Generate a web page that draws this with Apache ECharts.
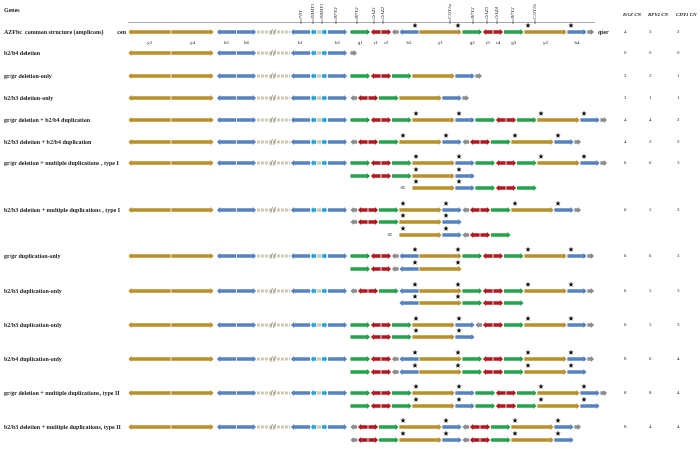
<!DOCTYPE html>
<html><head><meta charset="utf-8">
<script src="https://cdn.jsdelivr.net/npm/echarts@6/dist/echarts.min.js"></script>
<style>html,body{margin:0;padding:0;background:#fff}#c{width:700px;height:449px}</style>
</head><body><div id="c"></div>
<script>
// ---------------- DATA ----------------
const geneNames = ['PRY','RBMY1','RBMY1','BPY2','BPY2','DAZ1','DAZ2','CDY1a','BPY2','DAZ3','DAZ4','BPY2','CDY1b'];
const genePos   = [301,313,322,336,357,374,383,450,473,487,497,513,535];

const rowLabels = ['AZFbc  common structure (amplicons)','b2/b4 deletion','gr/gr deletion-only','b2/b3 deletion-only',
  'gr/gr deletion + b2/b4 duplication','b2/b3 deletion + b2/b4 duplication','gr/gr deletion + multiple duplications\u00a0, type I',
  'b2/b3 deletion + multiple duplications\u00a0, type I','gr/gr duplication-only','b2/b3 duplication-only','b2/b3 duplication-only',
  'b2/b4 duplication-only','gr/gr deletion + multiple duplications, type II','b2/b3 deletion + multiple duplications, type II'];
const rowY   = [32,53,76,98,120,142,163,210,256,291,325,359,393,427];
const dazCN  = [4,0,2,2,4,4,6,6,6,6,6,8,8,8];
const bpy2CN = [3,0,2,1,4,2,6,5,6,5,5,6,8,4];
const cdy1CN = [2,0,1,1,2,2,3,3,3,3,3,4,4,4];

// amplicon unit lengths (Y gold, B blue, G green, R red, X grey, D gap, L light blue, K box, S spacer)
const unitLen = {Y:43, B:20, G:20.5, R:10.5, X:7.5, D:34, L:6, K:5, S:2.5};

const LEFT = 'Y< Y> S B< B> D B< L< K L> B> S';
const COMMON = 'G> R< R> X< B<^ Y>^ G> R< R> G> Y>* B>* X>';
const GRDEL_DUP = 'G> R< R> G> Y>* B>* G> R< R> G> Y>* B>* X>';
const B3DEL_DUP = 'X< R< R> G> Y>* B>* X< R< R> G> Y>* B>* X>';
const trackY = [32,53,76,98,120,142,163,176,188,210,222,235,256,269,291,303,325,337,359,372,393,406,427,440];
const trackStart = [128,128,128,128,128,128,128,350,412,128,350,399,128,350,128,399,128,350,128,350,128,350,128,350];
const trackTokens = [
  LEFT+' '+COMMON,
  LEFT+' X>',
  LEFT+' G> R< R> G> Y> B> X>',
  LEFT+' X< R< R> G> Y> B> X>',
  LEFT+' '+GRDEL_DUP,
  LEFT+' '+B3DEL_DUP,
  LEFT+' '+GRDEL_DUP,
  'G> R< R> G> Y>* B>*',
  'Y>* B>* G> R< R> G>',
  LEFT+' '+B3DEL_DUP,
  'X< R< R> G> Y>* B>*',
  'Y>* B>* X< R< R> G>',
  LEFT+' '+COMMON,
  'G> R< R> X< B<^ Y>^',
  LEFT+' X< R< R> G> B<^ Y>^ G> R< R> G> Y>* B>* X>',
  'B<^ Y>^ G> R< R> G>',
  LEFT+' G> R< R> G> Y>* B>* X< R< R> G> Y>* B>* X>',
  'G> R< R> G> Y>* B>*',
  LEFT+' '+COMMON,
  'G> R< R> X< B<^ Y>^ G> R< R> G> Y>* B>*',
  LEFT+' '+GRDEL_DUP,
  'G> R< R> G> Y>* B>* G> R< R> G> Y>* B>*',
  LEFT+' '+B3DEL_DUP,
  'X< R< R> G> Y>* B>* X< R< R> G> Y>* B>*'
];
const commonNames = ['y3','y4','','b5','b6','','h1','','','','h2','','g1','r1','r2','','b3','y1','g2','r3','r4','g3','y2','b4',''];
const orTracks = [8, 11];

// ---------------- STYLE ----------------
const COL = {Y:'#B8902C', B:'#5882BF', G:'#26A24E', R:'#B0191F', X:'#8C8C8C', D:'#CFCAAE', L:'#22A5DE', K:'#CFCAAE'};
const TYPES = ['Y','B','G','R','X','D','L','K'];
const SERIF = 'Liberation Serif, Times New Roman, serif';

// ---------------- BUILD ----------------
const segData = [], starData = [], texts = [];
trackTokens.forEach((str, ti) => {
  let x = trackStart[ti];
  const y = trackY[ti];
  str.trim().split(/\s+/).forEach((tok, k) => {
    const t = tok[0];
    const len = unitLen[t];
    const dir = tok.indexOf('>') >= 0 ? 1 : (tok.indexOf('<') >= 0 ? -1 : 0);
    if (t !== 'S') segData.push([x, x + len, y, TYPES.indexOf(t), dir]);
    if (tok.indexOf('*') >= 0) starData.push([x + 4, y]);
    if (tok.indexOf('^') >= 0) starData.push([x + len - 4, y]);
    if (ti === 0 && commonNames[k]) texts.push({x: x + len / 2, y: y + 11, text: commonNames[k], font: '5px ' + SERIF, align: 'center'});
    x += len;
  });
  if (orTracks.indexOf(ti) >= 0) texts.push({x: trackStart[ti] - 7, y: y, text: 'or', font: '5.5px ' + SERIF, align: 'right'});
});
texts.push({x: 4, y: 10, text: 'Genes', font: 'bold 6px ' + SERIF, align: 'left'});
texts.push({x: 126, y: 32, text: 'cen', font: 'bold 6px ' + SERIF, align: 'right'});
texts.push({x: 598, y: 32, text: 'qter', font: 'bold 6px ' + SERIF, align: 'left'});
rowLabels.forEach((l, i) => texts.push({x: 4, y: rowY[i], text: l, font: 'bold 6px ' + SERIF, align: 'left'}));
const cnX = [623, 648, 676];
['DAZ CN', 'BPY2 CN', 'CDY1 CN'].forEach((h, j) => texts.push({x: cnX[j], y: 15, text: h, font: 'italic bold 5px ' + SERIF, align: 'left'}));
rowY.forEach((y, i) => [dazCN, bpy2CN, cdy1CN].forEach((arr, j) =>
  texts.push({x: cnX[j] + 1, y: y, text: String(arr[i]), font: '5px ' + SERIF, align: 'left'})));
geneNames.forEach((g, i) => texts.push({x: genePos[i], y: 19, text: g, font: 'italic 5px ' + SERIF, align: 'left', rot: Math.PI / 2}));

// ---------------- RENDER ----------------
function segItem(params, api) {
  const p0 = api.coord([api.value(0), api.value(2)]);
  const p1 = api.coord([api.value(1), api.value(2)]);
  const t = TYPES[api.value(3)], dir = api.value(4);
  const a = p0[0] + 0.4, b = p1[0] - 0.4, y = p0[1];
  const color = COL[t];
  if (t === 'D') {
    const m = (a + b) / 2;
    return {type: 'group', children: [
      {type: 'line', shape: {x1: a, y1: y, x2: b, y2: y}, style: {stroke: color, lineWidth: 3, lineDash: [3, 1]}},
      {type: 'line', shape: {x1: m - 3, y1: y + 3, x2: m - 1, y2: y - 3}, style: {stroke: '#8a8a7a', lineWidth: 0.8}},
      {type: 'line', shape: {x1: m, y1: y + 3, x2: m + 2, y2: y - 3}, style: {stroke: '#8a8a7a', lineWidth: 0.8}}
    ]};
  }
  const h = 1.7, H = 3, hl = t === 'L' ? 2.2 : 3.2;
  let pts;
  if (dir > 0) pts = [[a, y - h], [b - hl, y - h], [b - hl, y - H], [b, y], [b - hl, y + H], [b - hl, y + h], [a, y + h]];
  else if (dir < 0) pts = [[b, y - h], [a + hl, y - h], [a + hl, y - H], [a, y], [a + hl, y + H], [a + hl, y + h], [b, y + h]];
  else pts = [[a, y - h], [b, y - h], [b, y + h], [a, y + h]];
  return {type: 'polygon', shape: {points: pts}, style: {fill: color}};
}
function starItem(params, api) {
  const p = api.coord([api.value(0), api.value(1)]);
  const cx = p[0], cy = p[1] - 6.5, R = 2.8, r = 1.15, pts = [];
  for (let i = 0; i < 10; i++) {
    const ang = -Math.PI / 2 + i * Math.PI / 5, rr = i % 2 ? r : R;
    pts.push([cx + rr * Math.cos(ang), cy + rr * Math.sin(ang)]);
  }
  return {type: 'polygon', shape: {points: pts}, style: {fill: '#111'}};
}
function textItem(params, api) {
  const d = texts[params.dataIndex];
  const p = api.coord([d.x, d.y]);
  return {type: 'text', x: p[0], y: p[1], rotation: d.rot || 0,
    style: {text: d.text, font: d.font, fill: '#222', align: d.align, verticalAlign: 'middle'}};
}
function geneItem(params, api) {
  const p = api.coord([api.value(0), 22.5]);
  return {type: 'line', shape: {x1: p[0], y1: p[1] - 3, x2: p[0], y2: p[1] + 1.5}, style: {stroke: '#444', lineWidth: 0.7}};
}
function axisLineItem(params, api) {
  const p0 = api.coord([api.value(0), api.value(2)]), p1 = api.coord([api.value(1), api.value(2)]);
  return {type: 'line', shape: {x1: p0[0], y1: p0[1], x2: p1[0], y2: p1[1]}, style: {stroke: '#aaa', lineWidth: 1}};
}

const chart = echarts.init(document.getElementById('c'), null, {renderer: 'canvas'});
chart.setOption({
  animation: false,
  backgroundColor: '#fff',
  grid: {left: 0, right: 0, top: 0, bottom: 0},
  xAxis: {type: 'value', min: 0, max: 700, show: false},
  yAxis: {type: 'value', min: 0, max: 449, inverse: true, show: false},
  series: [
    {type: 'custom', renderItem: axisLineItem, data: [[128, 595, 22.5]], clip: false, silent: true},
    {type: 'custom', renderItem: geneItem, data: genePos.map(x => [x]), clip: false, silent: true},
    {type: 'custom', renderItem: segItem, data: segData, clip: false, silent: true},
    {type: 'custom', renderItem: starItem, data: starData, clip: false, silent: true},
    {type: 'custom', renderItem: textItem, data: texts.map(t => [t.x, t.y]), clip: false, silent: true}
  ]
});
</script></body></html>
